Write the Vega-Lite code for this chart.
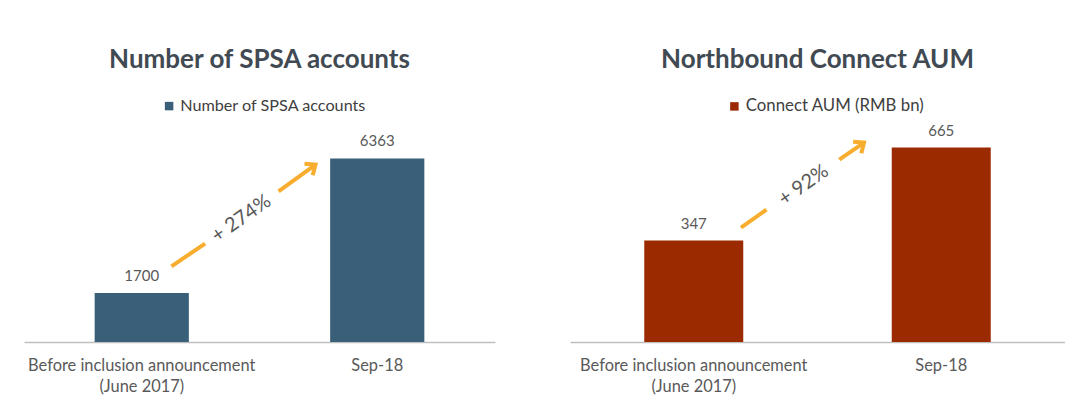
{
  "$schema": "https://vega.github.io/schema/vega-lite/v6.json",
  "background": "white",
  "padding": {"left": 24, "top": 47, "right": 0, "bottom": 0},
  "spacing": 75,
  "config": {"view": {"stroke": null}, "font": "Lato"},
  "resolve": {"scale": {"color": "independent", "y": "independent", "x": "independent"}},
  "hconcat": [
    {
      "width": 471,
      "height": 202,
      "title": {"text": "Number of SPSA accounts", "fontSize": 26, "fontWeight": "bold", "color": "#414a53", "offset": 25, "anchor": "middle", "font": "Lato"},
      "resolve": {"scale": {"x": "independent"}},
      "layer": [
        {
          "data": {"values": [
            {"period": "Before inclusion announcement|(June 2017)", "value": 1700, "series": "Number of SPSA accounts"},
            {"period": "Sep-18", "value": 6363, "series": "Number of SPSA accounts"}
          ]},
          "encoding": {
            "x": {"field": "period", "type": "nominal", "sort": null,
              "scale": {"paddingInner": 0.6, "paddingOuter": 0.3},
              "axis": {"title": null, "domain": true, "domainColor": "#bfbfbf", "domainWidth": 1.5, "ticks": false, "labelAngle": 0, "labelFontSize": 16.4, "labelColor": "#595959", "labelPadding": 15, "labelLineHeight": 21, "labelExpr": "split(datum.value, '|')", "labelFont": "Lato", "labelLimit": 0}},
            "y": {"field": "value", "type": "quantitative", "scale": {"domain": [0, 7000], "nice": false}, "axis": null}
          },
          "layer": [
            {"mark": {"type": "bar"},
             "encoding": {"color": {"field": "series", "type": "nominal", "scale": {"range": ["#3a6079"]},
               "legend": {"orient": "none", "legendX": 137, "legendY": -42, "title": null, "symbolType": "square", "symbolSize": 72, "symbolStrokeWidth": 0, "labelOffset": 3, "labelFontSize": 16.2, "labelLimit": 0, "labelColor": "#404040", "labelFont": "Lato", "direction": "horizontal"}}}},
            {"mark": {"type": "text", "dy": -12, "baseline": "alphabetic", "fontSize": 15, "color": "#595959", "font": "Lato"},
             "encoding": {"text": {"field": "value", "type": "quantitative", "format": "d"}}}
          ]
        },
        {
          "data": {"values": [
            {"seg": "a", "i": 1, "px": 0.626, "py": 2623},
            {"seg": "a", "i": 2, "px": 0.769, "py": 3410},
            {"seg": "b", "i": 1, "px": 1.081, "py": 5222},
            {"seg": "b", "i": 2, "px": 1.238, "py": 6148},
            {"seg": "c", "i": 1, "px": 1.191, "py": 6179},
            {"seg": "c", "i": 2, "px": 1.238, "py": 6148},
            {"seg": "c", "i": 3, "px": 1.226, "py": 5777}
          ]},
          "mark": {"type": "line", "color": "#f8ad2f", "strokeWidth": 4, "strokeCap": "butt", "strokeJoin": "miter"},
          "encoding": {
            "x": {"field": "px", "type": "quantitative", "scale": {"domain": [0, 2], "nice": false, "zero": false}, "axis": null},
            "y": {"field": "py", "type": "quantitative", "scale": {"domain": [0, 7000], "nice": false}, "axis": null},
            "detail": {"field": "seg"},
            "order": {"field": "i"}
          }
        },
        {
          "data": {"values": [{"px": 0.923, "py": 4276, "label": "+ 274%"}]},
          "mark": {"type": "text", "angle": -35, "fontSize": 20, "color": "#595959", "font": "Lato"},
          "encoding": {
            "x": {"field": "px", "type": "quantitative", "scale": {"domain": [0, 2], "nice": false, "zero": false}, "axis": null},
            "y": {"field": "py", "type": "quantitative", "scale": {"domain": [0, 7000], "nice": false}, "axis": null},
            "text": {"field": "label"}
          }
        }
      ]
    },
    {
      "width": 495,
      "height": 202,
      "title": {"text": "Northbound Connect AUM", "fontSize": 26, "fontWeight": "bold", "color": "#414a53", "offset": 25, "anchor": "middle", "font": "Lato"},
      "resolve": {"scale": {"x": "independent"}},
      "layer": [
        {
          "data": {"values": [
            {"period": "Before inclusion announcement|(June 2017)", "value": 347, "series": "Connect AUM (RMB bn)"},
            {"period": "Sep-18", "value": 665, "series": "Connect AUM (RMB bn)"}
          ]},
          "encoding": {
            "x": {"field": "period", "type": "nominal", "sort": null,
              "scale": {"paddingInner": 0.6, "paddingOuter": 0.3},
              "axis": {"title": null, "domain": true, "domainColor": "#bfbfbf", "domainWidth": 1.5, "ticks": false, "labelAngle": 0, "labelFontSize": 16.4, "labelColor": "#595959", "labelPadding": 15, "labelLineHeight": 21, "labelExpr": "split(datum.value, '|')", "labelFont": "Lato", "labelLimit": 0}},
            "y": {"field": "value", "type": "quantitative", "scale": {"domain": [0, 691], "nice": false}, "axis": null}
          },
          "layer": [
            {"mark": {"type": "bar"},
             "encoding": {"color": {"field": "series", "type": "nominal", "scale": {"range": ["#9b2a00"]},
               "legend": {"orient": "none", "legendX": 156, "legendY": -42, "title": null, "symbolType": "square", "symbolSize": 72, "symbolStrokeWidth": 0, "labelOffset": 3, "labelFontSize": 16.8, "labelLimit": 0, "labelColor": "#404040", "labelFont": "Lato", "direction": "horizontal"}}}},
            {"mark": {"type": "text", "dy": -12, "baseline": "alphabetic", "fontSize": 15, "color": "#595959", "font": "Lato"},
             "encoding": {"text": {"field": "value", "type": "quantitative", "format": "d"}}}
          ]
        },
        {
          "data": {"values": [
            {"seg": "a", "i": 1, "px": 0.691, "py": 391.3},
            {"seg": "a", "i": 2, "px": 0.794, "py": 452.9},
            {"seg": "b", "i": 1, "px": 1.088, "py": 624.0},
            {"seg": "b", "i": 2, "px": 1.188, "py": 682.1},
            {"seg": "c", "i": 1, "px": 1.144, "py": 685.2},
            {"seg": "c", "i": 2, "px": 1.188, "py": 682.1},
            {"seg": "c", "i": 3, "px": 1.177, "py": 645.8}
          ]},
          "mark": {"type": "line", "color": "#f8ad2f", "strokeWidth": 4, "strokeCap": "butt", "strokeJoin": "miter", "clip": false},
          "encoding": {
            "x": {"field": "px", "type": "quantitative", "scale": {"domain": [0, 2], "nice": false, "zero": false}, "axis": null},
            "y": {"field": "py", "type": "quantitative", "scale": {"domain": [0, 691], "nice": false}, "axis": null},
            "detail": {"field": "seg"},
            "order": {"field": "i"}
          }
        },
        {
          "data": {"values": [{"px": 0.944, "py": 536, "label": "+ 92%"}]},
          "mark": {"type": "text", "angle": -35, "fontSize": 20, "color": "#595959", "font": "Lato"},
          "encoding": {
            "x": {"field": "px", "type": "quantitative", "scale": {"domain": [0, 2], "nice": false, "zero": false}, "axis": null},
            "y": {"field": "py", "type": "quantitative", "scale": {"domain": [0, 691], "nice": false}, "axis": null},
            "text": {"field": "label"}
          }
        }
      ]
    }
  ]
}
